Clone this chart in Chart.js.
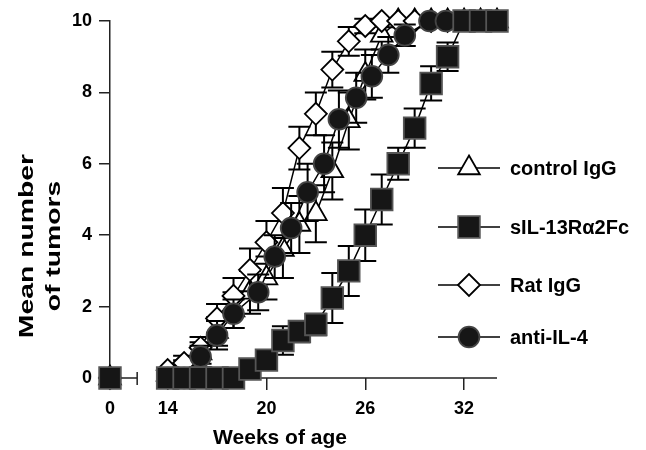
<!DOCTYPE html>
<html><head><meta charset="utf-8">
<script src="https://cdn.jsdelivr.net/npm/chart.js@4/dist/chart.umd.min.js"></script>
<style>html,body{margin:0;padding:0;background:#fff}#wrap{width:646px;height:450px}</style>
</head><body><div id="wrap"><canvas id="c" width="646" height="450"></canvas></div>
<script>
// ---- data (weeks of age, mean number of tumors, error) ----
const xTicks = [0, 14, 20, 26, 32];
const yTicks = [0, 2, 4, 6, 8, 10];
const seriesNames = ['control IgG', 'sIL-13R\u03B12Fc', 'Rat IgG', 'anti-IL-4'];

const weeksControl = [0,14,15,16,17,18,19,20,21,22,23,24,25,26,27,28,29,30,31,32,33,34];
const valsControl  = [0,0.1,0.3,0.7,1.3,1.9,2.4,2.8,3.6,4.3,4.6,5.8,7.2,8.5,9.6,10,10,10,10,10,10,10];
const errControl   = [0,0,0.2,0.3,0.4,0.5,0.6,0.6,0.8,0.8,0.8,0.8,0.8,0.7,0.4,0,0,0,0,0,0,0];

const weeksSIL = [0,14,15,16,17,18,19,20,21,22,23,24,25,26,27,28,29,30,31,32,33,34];
const valsSIL  = [0,0,0,0,0,0,0.25,0.5,1.05,1.3,1.5,2.24,3.0,4.0,5.0,6.0,7.0,8.25,9.0,10,10,10];
const errSIL   = [0,0,0,0,0,0,0,0,0.4,0.3,0.3,0.7,0.7,0.72,0.7,0.45,0.55,0.48,0.4,0,0,0];

const weeksRat = [0,14,15,16,17,18,19,20,21,22,23,24,25,26,27,28,29,30,31];
const valsRat  = [0,0.22,0.42,0.85,1.67,2.3,3.03,3.8,4.62,6.44,7.4,8.64,9.43,9.86,10,10,10,10,10];
const errRat   = [0,0,0.2,0.3,0.4,0.5,0.6,0.6,0.7,0.6,0.6,0.5,0.4,0.2,0,0,0,0,0];

const weeksAnti = [0,14,15,16,17,18,19.5,20.5,21.5,22.5,23.5,24.4,25.45,26.4,27.4,28.4,29.9,30.9,32.4];
const valsAnti  = [0,0,0,0.6,1.2,1.8,2.4,3.4,4.2,5.2,6.0,7.25,7.85,8.45,9.05,9.6,10,10,10];
const errAnti   = [0,0,0,0.3,0.4,0.4,0.5,0.6,0.7,0.8,0.8,0.8,0.7,0.6,0.5,0.3,0,0,0];

// ---- broken x axis: week 0 is drawn just left of the break ----
const BREAK_POS = 10.5;
const axisPos = w => (w === 0 ? BREAK_POS : w);
const toPoints = (weeks, vals) => weeks.map((w, i) => ({x: axisPos(w), y: vals[i]}));

const FONT = '"Liberation Sans", Arial, Helvetica, sans-serif';
const DARK = '#161616';

const gapSegment = {
  borderColor: c => (c.p0.parsed.x < 12 && c.p1.parsed.x > 12) ? 'rgba(0,0,0,0)' : '#000'
};

function mk(label, weeks, vals, errs, style, radius, fill, edge, order) {
  return {
    label, data: toPoints(weeks, vals), errors: errs,
    borderColor: '#000', borderWidth: 1.5, showLine: true, tension: 0,
    pointStyle: style, pointRadius: radius, pointHoverRadius: radius,
    pointBackgroundColor: fill, pointBorderColor: edge, pointBorderWidth: 1.8,
    clip: false, order, segment: gapSegment
  };
}

const datasets = [
  mk(seriesNames[0], weeksControl, valsControl, errControl, 'triangle', 12.5, '#fff', '#000', 3),
  mk(seriesNames[1], weeksSIL, valsSIL, errSIL, 'rect', 15.3, DARK, '#555', 0),
  mk(seriesNames[2], weeksRat, valsRat, errRat, 'rectRot', 11, '#fff', '#000', 2),
  mk(seriesNames[3], weeksAnti, valsAnti, errAnti, 'circle', 10.4, DARK, '#444', 1)
];

const errorBars = {
  id: 'errorBars',
  beforeDatasetDraw(chart, args) {
    const ds = chart.data.datasets[args.index];
    if (!ds.errors) return;
    const {ctx} = chart, y = chart.scales.y;
    ctx.save();
    ctx.strokeStyle = '#000'; ctx.lineWidth = 2;
    args.meta.data.forEach((pt, i) => {
      const e = ds.errors[i]; if (!e) return;
      const v = ds.data[i].y;
      const yt = y.getPixelForValue(v + e), yb = y.getPixelForValue(v - e);
      ctx.beginPath();
      ctx.moveTo(pt.x, yt); ctx.lineTo(pt.x, yb);
      ctx.moveTo(pt.x - 11, yt); ctx.lineTo(pt.x + 11, yt);
      ctx.moveTo(pt.x - 11, yb); ctx.lineTo(pt.x + 11, yb);
      ctx.stroke();
    });
    ctx.restore();
  }
};

const brokenAxis = {
  id: 'brokenAxis',
  beforeDatasetsDraw(chart) {
    const {ctx} = chart, x = chart.scales.x, y = chart.scales.y;
    const y0 = y.getPixelForValue(0);
    ctx.save();
    ctx.strokeStyle = '#222'; ctx.lineWidth = 1.5;
    const a = x.getPixelForValue(BREAK_POS), b = x.getPixelForValue(12.15);
    ctx.beginPath();
    ctx.moveTo(a, y0); ctx.lineTo(b, y0);
    ctx.moveTo(b, y0 - 6); ctx.lineTo(b, y0 + 7);
    ctx.moveTo(x.getPixelForValue(13.5), y0); ctx.lineTo(chart.chartArea.right, y0);
    ctx.stroke();
    ctx.restore();
  }
};

const titlesAndLegend = {
  id: 'titlesAndLegend',
  afterDraw(chart) {
    const {ctx} = chart;
    ctx.save();
    ctx.fillStyle = '#000';
    // x title
    ctx.font = 'bold 21px ' + FONT;
    ctx.textAlign = 'center'; ctx.textBaseline = 'alphabetic';
    ctx.fillText('Weeks of age', 280, 444);
    // y title (two rotated lines)
    ctx.save();
    ctx.translate(33, 246);
    ctx.rotate(-Math.PI / 2);
    ctx.scale(1.35, 1);
    ctx.font = 'bold 21px ' + FONT;
    ctx.fillText('Mean number', 0, 0);
    ctx.restore();
    ctx.save();
    ctx.translate(60, 246);
    ctx.rotate(-Math.PI / 2);
    ctx.scale(1.35, 1);
    ctx.font = 'bold 21px ' + FONT;
    ctx.fillText('of tumors', 0, 0);
    ctx.restore();
    // legend
    const rows = [168, 227, 285, 337];
    ctx.font = 'bold 20px ' + FONT;
    ctx.textAlign = 'left'; ctx.textBaseline = 'middle';
    chart.data.datasets.forEach((ds, i) => {
      const yy = rows[i];
      ctx.strokeStyle = '#000'; ctx.lineWidth = 1.5;
      ctx.beginPath(); ctx.moveTo(438, yy); ctx.lineTo(500, yy); ctx.stroke();
      ctx.fillStyle = ds.pointBackgroundColor; ctx.strokeStyle = ds.pointBorderColor;
      ctx.lineWidth = ds.pointBorderWidth;
      Chart.helpers.drawPoint(ctx, {pointStyle: ds.pointStyle, radius: ds.pointRadius, rotation: 0, borderWidth: ds.pointBorderWidth}, 469, yy);
      ctx.fillStyle = '#000';
      ctx.fillText(ds.label, 510, yy + 1);
    });
    ctx.restore();
  }
};

new Chart(document.getElementById('c'), {
  type: 'line',
  data: {datasets},
  options: {
    responsive: false, animation: false, devicePixelRatio: 1,
    layout: {padding: {left: 0, right: 149, top: 21, bottom: 0}},
    plugins: {legend: {display: false}, tooltip: {enabled: false}},
    scales: {
      x: {
        type: 'linear', min: BREAK_POS, max: 34,
        afterFit: s => { s.height = 72; },
        afterBuildTicks: s => { s.ticks = xTicks.map(v => ({value: axisPos(v)})); },
        ticks: {
          callback: v => (v === BREAK_POS ? '0' : String(v)),
          font: {family: FONT, size: 18, weight: 'bold'}, color: '#000', padding: 8, maxRotation: 0
        },
        grid: {drawOnChartArea: false, tickLength: 12, color: '#222', lineWidth: 1.5},
        border: {display: false}
      },
      y: {
        min: 0, max: 10,
        afterFit: s => { s.width = 110; },
        afterBuildTicks: s => { s.ticks = yTicks.map(v => ({value: v})); },
        ticks: {font: {family: FONT, size: 18, weight: 'bold'}, color: '#000', padding: 7},
        grid: {drawOnChartArea: false, tickLength: 11, color: '#222', lineWidth: 1.5},
        border: {display: true, color: '#222', width: 1.5}
      }
    }
  },
  plugins: [errorBars, brokenAxis, titlesAndLegend]
});
</script></body></html>
